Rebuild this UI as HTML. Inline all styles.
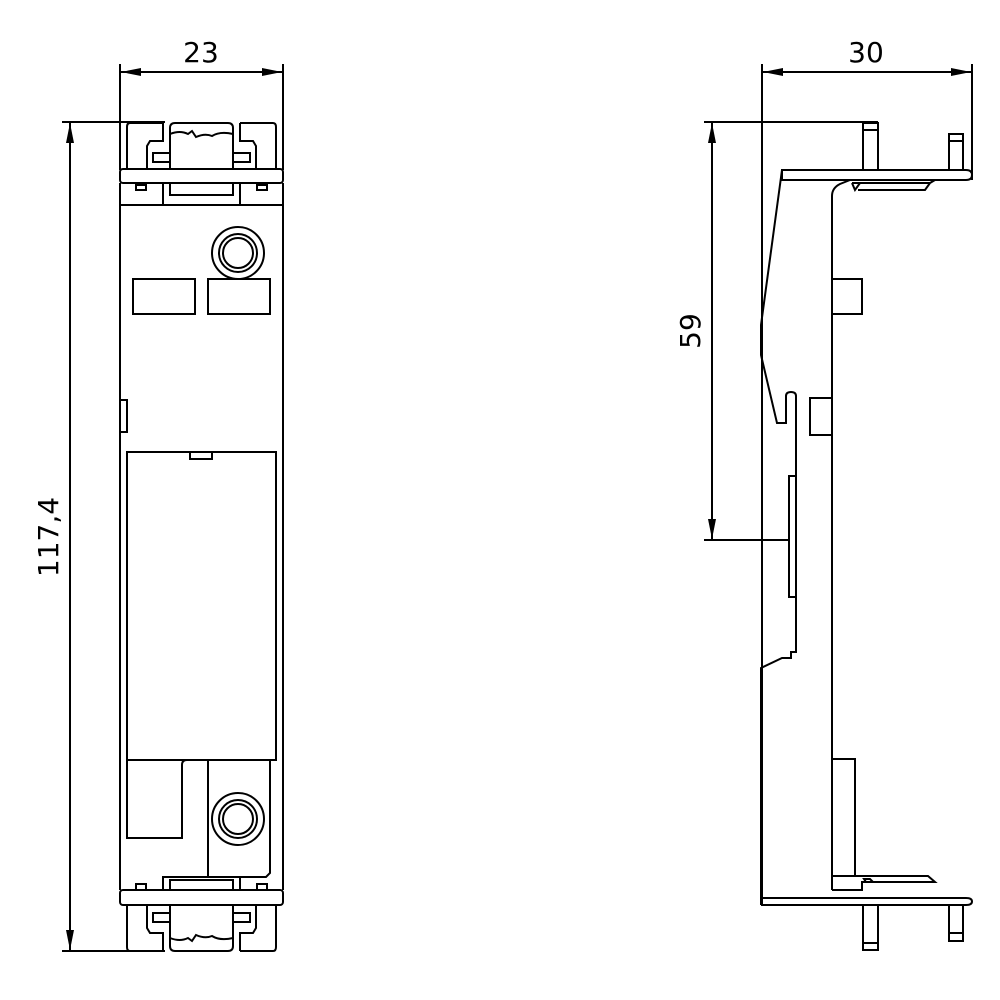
<!DOCTYPE html>
<html><head><meta charset="utf-8"><style>
html,body{margin:0;padding:0;background:#fff;width:1000px;height:1000px;overflow:hidden}
svg{display:block}
text{font-family:"DejaVu Sans","Liberation Sans",sans-serif;font-size:28px;fill:#000}
</style></head><body>
<svg width="1000" height="1000" viewBox="0 0 1000 1000" xmlns="http://www.w3.org/2000/svg">
<defs>
<marker id="a" viewBox="0 0 20 8" refX="20" refY="4" markerWidth="20" markerHeight="8" markerUnits="userSpaceOnUse" orient="auto-start-reverse"><path d="M0,0 L20,4 L0,8 z" fill="#000"/></marker>
</defs>
<g fill="none" stroke="#000" stroke-width="2">
<!-- LEFT VIEW dimensions -->
<line x1="120" y1="64" x2="120" y2="170"/>
<line x1="283" y1="64" x2="283" y2="170"/>
<line x1="121" y1="72" x2="282" y2="72" marker-start="url(#a)" marker-end="url(#a)"/>
<line x1="62" y1="122" x2="165" y2="122"/>
<line x1="62" y1="951" x2="165" y2="951"/>
<line x1="70" y1="123" x2="70" y2="950" marker-start="url(#a)" marker-end="url(#a)"/>

<!-- top clips -->
<path d="M163,123 H130 Q127,123 127,127 V169 M147,169 V146 L150,141 H163 V123"/>
<rect x="153" y="153" width="17" height="9"/>
<path d="M170,169 V128 Q170,123 175,123 H228 Q233,123 233,128 V169"/>
<path d="M170,134 Q180,130 188,134 L192,131 L196,137 Q205,133 212,136 Q220,131 233,134"/>
<path d="M240,123 H273 Q276,123 276,127 V169 M256,169 V146 L253,141 H240 V123"/>
<rect x="233" y="153" width="17" height="9"/>
<rect x="120" y="169" width="163" height="14" rx="3"/>
<path d="M120,183 V205 H163 V183 M170,183 V195 H233 V183 M240,183 V205 H283 V183"/>
<rect x="136" y="185" width="10" height="5"/>
<rect x="257" y="185" width="10" height="5"/>
<!-- main body -->
<line x1="120" y1="205" x2="120" y2="890"/>
<line x1="283" y1="205" x2="283" y2="890"/>
<line x1="120" y1="205" x2="283" y2="205"/>
<circle cx="238" cy="253" r="26"/>
<circle cx="238" cy="253" r="19"/>
<circle cx="238" cy="253" r="15"/>
<rect x="133" y="279" width="62" height="35"/>
<rect x="208" y="279" width="62" height="35"/>
<rect x="120" y="400" width="7" height="32"/>
<rect x="127" y="452" width="149" height="308"/>
<rect x="190" y="452" width="22" height="7"/>
<!-- lower -->
<path d="M127,760 V838 H182 V765 Q182,760 187,760 H276"/>
<line x1="208" y1="760" x2="208" y2="876"/>
<path d="M270,760 V873 L266,877 H240 V890 M163,890 V877 H240"/>
<rect x="170" y="880" width="63" height="10"/>
<circle cx="238" cy="819" r="26"/>
<circle cx="238" cy="819" r="19"/>
<circle cx="238" cy="819" r="15"/>
<rect x="136" y="884" width="10" height="6"/>
<rect x="257" y="884" width="10" height="6"/>
<rect x="120" y="890" width="163" height="15" rx="3"/>
<!-- bottom clips -->
<path d="M163,951 H130 Q127,951 127,947 V905 M147,905 V928 L150,933 H163 V951"/>
<rect x="153" y="913" width="17" height="9"/>
<path d="M170,905 V946 Q170,951 175,951 H228 Q233,951 233,946 V905"/>
<path d="M170,938 Q180,942 188,938 L192,941 L196,935 Q205,939 212,936 Q220,941 233,938"/>
<path d="M240,951 H273 Q276,951 276,947 V905 M256,905 V928 L253,933 H240 V951"/>
<rect x="233" y="913" width="17" height="9"/>

<!-- RIGHT VIEW dimensions -->
<line x1="762" y1="64" x2="762" y2="905"/>
<line x1="972" y1="64" x2="972" y2="180"/>
<line x1="763" y1="72" x2="971" y2="72" marker-start="url(#a)" marker-end="url(#a)"/>
<line x1="704" y1="122" x2="878" y2="122"/>
<line x1="704" y1="540" x2="789" y2="540"/>
<line x1="712" y1="123" x2="712" y2="539" marker-start="url(#a)" marker-end="url(#a)"/>

<!-- pins top -->
<rect x="863" y="123" width="15" height="47"/>
<line x1="863" y1="130" x2="878" y2="130"/>
<rect x="949" y="134" width="14" height="36"/>
<line x1="949" y1="141" x2="963" y2="141"/>
<!-- top plate -->
<path d="M782,170 H966 Q972,170 972,175 Q972,180 966,180 H782 Z"/>
<path d="M850,180 L840,184 Q832,188 832,196 V890"/>
<path d="M852,183 H930 L935,180 M852,183 L855,190 L860,183 M930,183 L925,190 H858"/>
<!-- left slanted -->
<path d="M782,170 L761,325 V355 L777,423 H786 V396 Q786,392 791,392 Q796,392 796,396 V652 H791 V658 H782 L761,668 V905"/>
<rect x="832" y="279" width="30" height="35"/>
<rect x="810" y="398" width="22" height="37"/>
<rect x="789" y="476" width="7" height="121"/>
<rect x="832" y="759" width="23" height="117"/>
<!-- bottom strips -->
<path d="M832,876 H928 L935,882 H862 V890 H832 M866,882 L864,879 L870,879 L873,882"/>
<path d="M761,898 H966 Q972,898 972,901.5 Q972,905 966,905 H761"/>
<rect x="863" y="905" width="15" height="45"/>
<line x1="863" y1="943" x2="878" y2="943"/>
<rect x="949" y="905" width="14" height="36"/>
<line x1="949" y1="933" x2="963" y2="933"/>
</g>
<text x="201" y="62" text-anchor="middle">23</text>
<text x="866" y="62" text-anchor="middle">30</text>
<text transform="translate(58,537) rotate(-90)" text-anchor="middle">117,4</text>
<text transform="translate(700,331) rotate(-90)" text-anchor="middle">59</text>
</svg>
</body></html>
